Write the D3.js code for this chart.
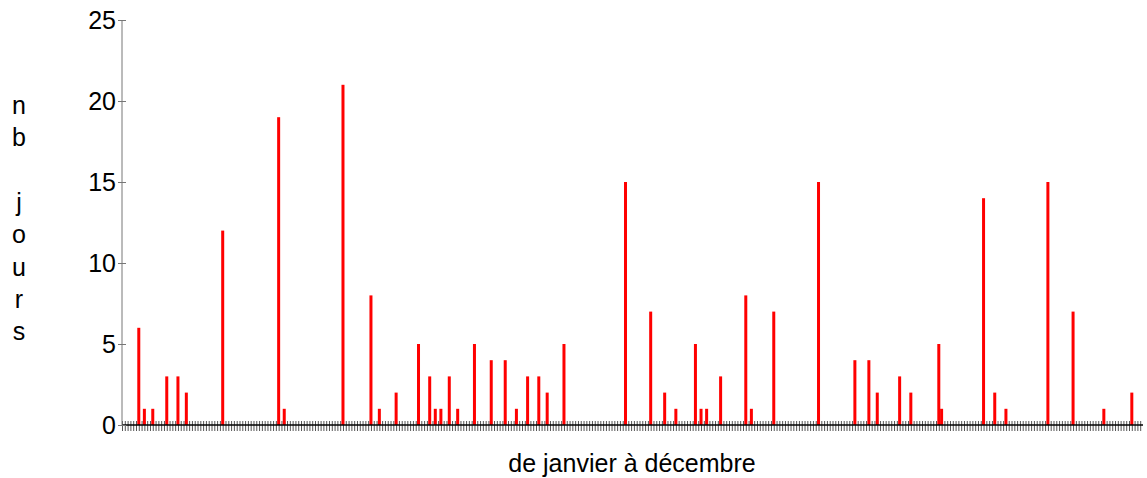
<!DOCTYPE html>
<html>
<head>
<meta charset="utf-8">
<script src="https://cdn.jsdelivr.net/npm/d3@7/dist/d3.min.js"></script>
<style>
  html, body { margin: 0; padding: 0; background: #fff; }
  svg { display: block; font-family: "Liberation Sans", Arial, sans-serif; }
</style>
</head>
<body>
<svg id="chart" width="1147" height="478"></svg>
<script>
// ---- data ----
const dayCount = 365;
const days = [6,8,11,16,20,23,36,56,58,79,89,92,98,106,110,112,114,117,120,126,132,137,141,145,149,152,158,180,189,194,198,205,207,209,214,223,225,233,249,262,267,270,278,282,292,293,308,312,316,331,340,351,361];
const values = [6,1,1,3,3,2,12,19,1,21,8,1,2,5,3,1,1,3,1,5,4,4,1,3,3,2,5,15,7,2,1,5,1,1,3,8,1,7,15,4,4,2,3,2,5,1,14,2,1,15,7,1,2];
const yTicks = [0,5,10,15,20,25];
const yLabelLetters = ["n","b","","j","o","u","r","s"];
const xTitle = "de janvier à décembre";

// ---- layout ----
const svg = d3.select("#chart");
const x0 = 122, x1 = 1143, yTop = 20, yBottom = 425;
const dayIdx = d3.range(dayCount);
const step = (x1 - x0) / dayCount;
const x = d3.scalePoint().domain(dayIdx).range([x0, x0 + (dayCount - 1) * step]);
const y = d3.scaleLinear().domain([0, 25]).range([yBottom, yTop]);

// x ticks (one per day)
const xAxis = svg.append("g")
  .attr("transform", `translate(0,${yBottom})`)
  .call(d3.axisBottom(x).tickValues(dayIdx).tickSize(6).tickFormat(""));
xAxis.select(".domain").remove();
xAxis.selectAll(".tick line").attr("y1", -4).attr("y2", 6).attr("stroke", "#555").attr("stroke-width", 1);

// bars
const data = days.map((d, i) => ({ day: d, value: values[i] }));
svg.append("g").selectAll("rect").data(data).join("rect")
  .attr("x", d => x(d.day) - 1.5)
  .attr("width", 3)
  .attr("y", d => y(d.value))
  .attr("height", d => y(0) - y(d.value))
  .attr("fill", "#ff0000");

// x axis line
svg.append("line").attr("x1", x0).attr("x2", x1).attr("y1", yBottom).attr("y2", yBottom)
  .attr("stroke", "#000").attr("stroke-width", 1.5);

// y axis
const yAxis = svg.append("g")
  .attr("transform", `translate(${x0},0)`)
  .call(d3.axisLeft(y).tickValues(yTicks).tickSize(4).tickPadding(2));
yAxis.select(".domain").remove();
yAxis.selectAll(".tick line").attr("x1", 4).attr("x2", -4).attr("stroke", "#777");
yAxis.selectAll(".tick text").attr("font-size", 25).attr("fill", "#000")
  .attr("font-family", "'Liberation Sans', Arial, sans-serif").attr("x", -6);
svg.append("line").attr("x1", x0).attr("x2", x0).attr("y1", yTop).attr("y2", yBottom)
  .attr("stroke", "#777").attr("stroke-width", 1);

// y title (stacked letters)
svg.append("g").selectAll("text").data(yLabelLetters).join("text")
  .attr("x", 19)
  .attr("y", (d, i) => 114 + i * 32.3)
  .attr("text-anchor", "middle")
  .attr("font-size", 25)
  .attr("fill", "#000")
  .text(d => d);

// x title
svg.append("text")
  .attr("x", 632).attr("y", 472)
  .attr("text-anchor", "middle")
  .attr("font-size", 25)
  .attr("fill", "#000")
  .text(xTitle);
</script>
</body>
</html>
